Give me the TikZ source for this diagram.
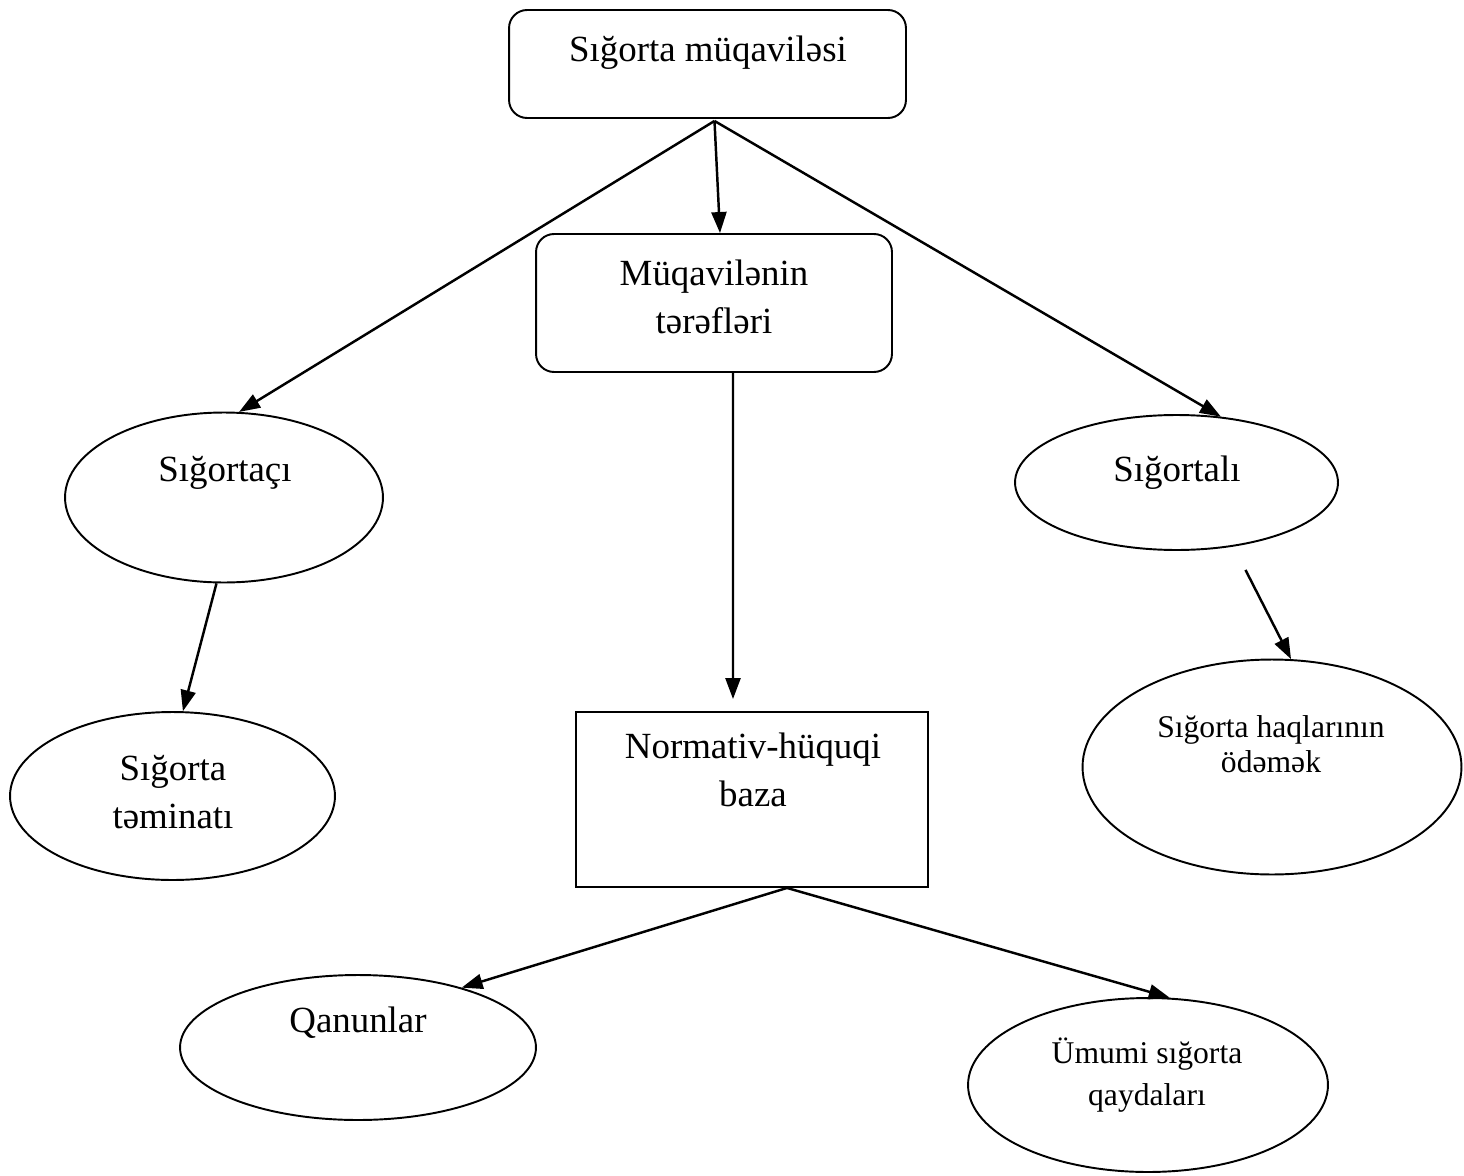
\documentclass[tikz,border=0pt]{standalone}
\usepackage{fontspec}
\setmainfont{Liberation Serif}
\usetikzlibrary{shapes.geometric,arrows.meta}
\begin{document}
\begin{tikzpicture}[x=0.02cm,y=-0.02cm,
    oval/.style={draw, ellipse, line width=1.1pt, inner sep=0pt},
    rbox/.style={draw, rounded corners=0.36cm, line width=1.1pt, inner sep=0pt},
    sbox/.style={draw, line width=1.1pt, inner sep=0pt},
    big/.style={font=\fontsize{21}{27}\selectfont, align=center, anchor=base},
    small/.style={font=\fontsize{18}{19.5}\selectfont, align=center, anchor=base},
    arr/.style={-{Triangle[length=0.42cm,width=0.3cm]}, line width=1.4pt}]
    \useasboundingbox (0,0) rectangle (1464,1176);

    % shapes
    \node[rbox, minimum width=7.94cm, minimum height=2.16cm] (contract) at (707.5,64) {};
    \node[rbox, minimum width=7.12cm, minimum height=2.76cm] (parties) at (714,303) {};
    \node[sbox, minimum width=7.04cm, minimum height=3.5cm] (legal) at (752,799.5) {};
    \node[oval, minimum width=6.36cm, minimum height=3.4cm] (insurer) at (224,497.5) {};
    \node[oval, minimum width=6.5cm, minimum height=3.36cm] (cover) at (172.5,796) {};
    \node[oval, minimum width=6.46cm, minimum height=2.7cm] (insured) at (1176.5,482.5) {};
    \node[oval, minimum width=7.58cm, minimum height=4.3cm] (premium) at (1272,767) {};
    \node[oval, minimum width=7.12cm, minimum height=2.9cm] (laws) at (358,1047.5) {};
    \node[oval, minimum width=7.2cm, minimum height=3.48cm] (rules) at (1148,1085) {};

    % texts (base = last line)
    \node[big] (contract-t) at (708,62) {Sığorta müqaviləsi};
    \node[big] (parties-t) at (714,333) {Müqavilənin\\tərəfləri};
    \node[big] (legal-t) at (753,806) {Normativ-hüquqi\\baza};
    \node[big] (insurer-t) at (225,481) {Sığortaçı};
    \node[big] (cover-t) at (173,828) {Sığorta\\təminatı};
    \node[big] (insured-t) at (1177,481) {Sığortalı};
    \node[small] (premium-t) at (1271,772) {Sığorta haqlarının\\ödəmək};
    \node[big] (laws-t) at (358,1032) {Qanunlar};
    \node[small] (rules-t) at (1147,1105) {Ümumi sığorta\\[4pt]qaydaları};

    % arrows
    \coordinate (fork) at ([shift={(7,2)}]contract.south);
    \draw[arr] (fork) -- (insurer.80);
    \draw[arr] (fork) -- ([xshift=0.12cm]parties.north);
    \draw[arr] (fork) -- (insured.56);
    \draw[arr] ([xshift=0.38cm]parties.south) -- ([shift={(-19,-12)}]legal.north);
    \draw[arr] (insurer.265) -- (cover.83);
    \draw[arr] ([shift={(69,19)}]insured.south) -- (premium.80);
    \draw[arr] ([xshift=0.7cm]legal.south) -- (laws.30);
    \draw[arr] ([xshift=0.7cm]legal.south) -- (rules.76);
\end{tikzpicture}
\end{document}
